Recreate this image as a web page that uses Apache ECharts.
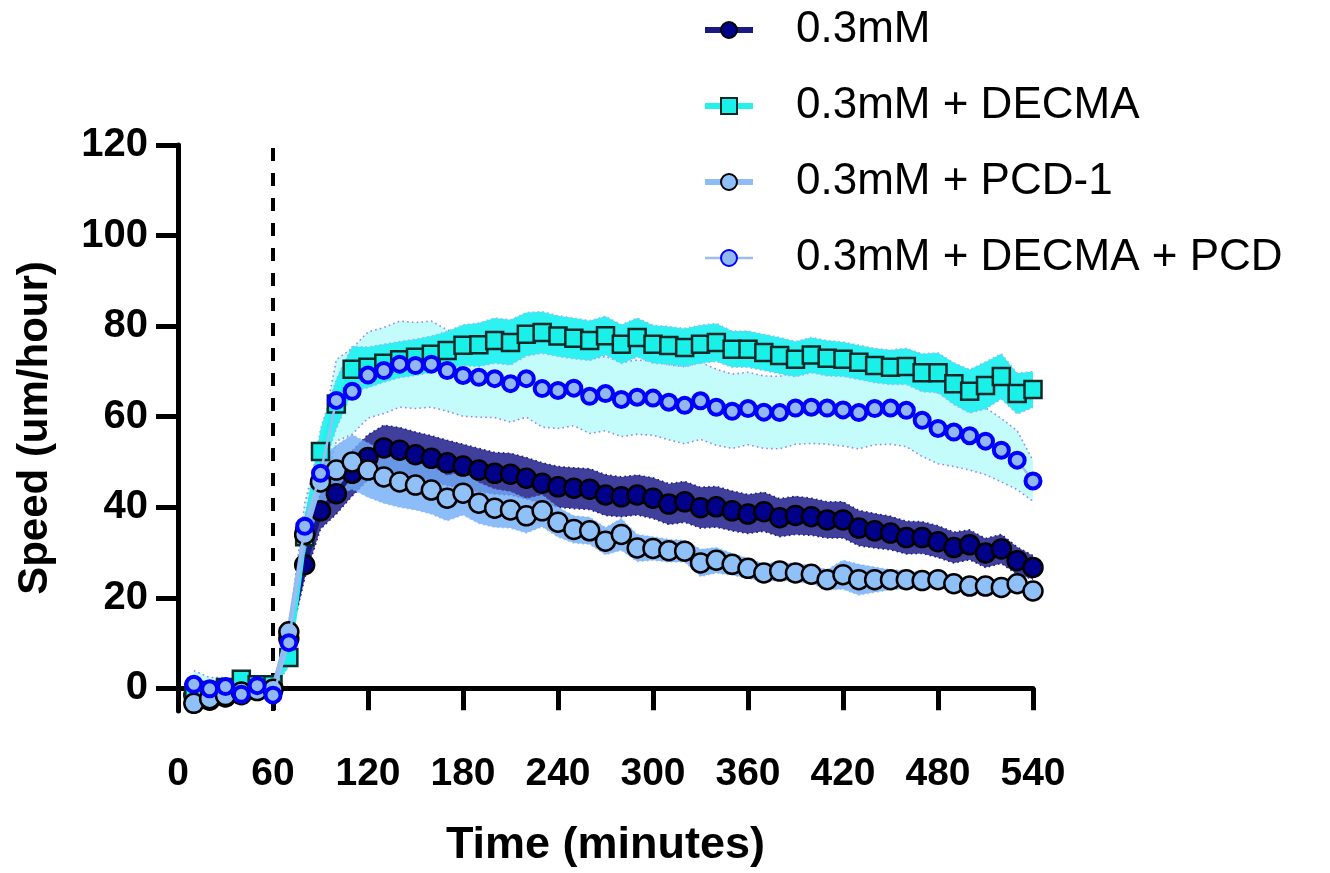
<!DOCTYPE html>
<html>
<head>
<meta charset="utf-8">
<title>Speed over time</title>
<script src="https://cdn.jsdelivr.net/npm/echarts@6/dist/echarts.min.js"></script>
<style>
  html, body { margin: 0; padding: 0; background: #fff; }
  #chart { width: 1330px; height: 873px; }
</style>
</head>
<body>
<div id="chart"></div>
<script>
// time points (minutes)
const times = [10, 20, 30, 40, 50, 60, 70, 80, 90, 100, 110, 120, 130, 140, 150, 160, 170, 180,
  190, 200, 210, 220, 230, 240, 250, 260, 270, 280, 290, 300, 310, 320, 330, 340, 350, 360,
  370, 380, 390, 400, 410, 420, 430, 440, 450, 460, 470, 480, 490, 500, 510, 520, 530, 540];

const yTicks = [0, 20, 40, 60, 80, 100, 120];
const seriesNames = ['0.3mM', '0.3mM + DECMA', '0.3mM + PCD-1', '0.3mM + DECMA + PCD'];

// 0.3mM
const mean03 = [-1.5, -2.6, -1.9, -1.4, -0.4, 0.0, 11.0, 27.3, 39.2, 43.0, 47.5, 51.0, 53.1, 52.6,
  51.6, 50.8, 49.8, 49.1, 48.2, 47.5, 47.3, 46.4, 45.3, 44.5, 44.2, 44.0, 42.7, 42.3, 42.7, 42.0,
  40.7, 41.2, 39.9, 40.1, 39.2, 38.5, 39.0, 37.7, 38.2, 37.9, 37.2, 37.2, 35.4, 34.8, 34.3, 33.3,
  33.3, 32.4, 31.1, 31.7, 29.9, 30.8, 28.2, 26.7];
const sem03 = [1.0, 1.2, 1.0, 1.0, 0.8, 0.8, 1.5, 3.0, 4.0, 4.5, 5.0, 5.0, 5.0, 5.0,
  5.0, 5.0, 5.0, 4.8, 4.8, 4.6, 4.6, 4.6, 4.5, 4.5, 4.5, 4.5, 4.5, 4.4, 4.4, 4.5,
  4.5, 4.5, 4.5, 4.5, 4.4, 4.3, 4.3, 4.2, 4.2, 4.1, 4.0, 4.0, 3.9, 3.8, 3.7, 3.6,
  3.5, 3.5, 3.4, 3.3, 3.2, 3.2, 3.0, 2.6];

// 0.3mM + DECMA
const meanDecma = [-0.9, -0.5, 0.2, 2.0, 0.8, 0.8, 6.8, 33.5, 52.3, 62.8, 70.5, 70.9, 71.8, 72.6,
  73.1, 73.8, 74.6, 75.8, 75.9, 76.8, 76.4, 78.2, 78.6, 77.8, 77.3, 76.8, 77.9, 76.0, 77.5, 76.0,
  75.7, 75.3, 76.0, 76.4, 74.9, 74.9, 74.2, 73.5, 72.7, 73.6, 72.9, 72.7, 72.0, 71.3, 70.9, 71.1,
  69.7, 69.7, 67.3, 65.6, 66.9, 68.9, 65.1, 66.0];
const semDecma = [1.2, 1.0, 1.0, 1.0, 1.0, 1.0, 2.0, 4.0, 5.0, 5.5, 5.0, 4.5, 4.2, 4.0,
  4.0, 4.0, 4.2, 4.5, 4.8, 5.0, 5.0, 4.8, 4.6, 4.5, 4.5, 4.4, 4.3, 4.3, 4.3, 4.2,
  4.2, 4.2, 4.2, 4.2, 4.0, 4.0, 4.0, 4.0, 3.9, 3.9, 3.9, 3.8, 3.8, 3.8, 3.8, 4.0,
  4.2, 4.4, 4.6, 4.8, 5.2, 5.0, 4.5, 4.0];

// 0.3mM + PCD-1
const meanPcd = [-3.3, -2.3, -1.6, -0.8, -0.5, -0.2, 12.5, 34.0, 45.6, 48.2, 50.0, 48.2, 46.7, 45.6,
  44.9, 43.8, 42.0, 43.1, 40.9, 39.8, 39.4, 38.1, 39.2, 36.7, 35.1, 34.8, 32.5, 34.0, 31.0, 30.9,
  30.4, 30.3, 27.7, 28.3, 27.4, 26.5, 25.5, 25.9, 25.5, 25.2, 24.0, 25.1, 24.0, 24.0, 24.0, 24.0,
  23.8, 24.0, 23.1, 22.6, 22.6, 22.3, 23.1, 21.5];
const semPcd = [1.2, 1.0, 1.0, 0.8, 0.8, 0.8, 2.0, 4.0, 5.0, 5.5, 6.0, 6.0, 5.8, 5.6,
  5.5, 5.3, 5.0, 4.8, 4.5, 4.2, 4.0, 3.8, 3.5, 3.3, 3.0, 3.0, 3.0, 3.5, 3.0, 2.6,
  2.5, 2.4, 3.0, 2.8, 2.4, 2.2, 2.0, 2.0, 2.0, 2.0, 2.2, 3.2, 3.4, 2.8, 2.2, 2.0,
  1.8, 1.6, 1.5, 1.4, 1.3, 1.2, 1.2, 1.0];

// 0.3mM + DECMA + PCD
const meanDP = [0.9, -0.1, 0.4, -1.3, 0.6, -1.5, 10.1, 35.8, 47.5, 63.6, 65.6, 69.2, 70.2, 71.6,
  71.3, 71.6, 70.2, 69.1, 68.7, 68.4, 67.3, 68.4, 66.2, 65.8, 66.3, 64.5, 65.1, 63.8, 64.3, 64.1,
  63.2, 62.5, 63.5, 62.1, 61.2, 61.8, 61.0, 60.9, 61.9, 62.1, 61.9, 61.5, 60.9, 61.8, 61.9, 61.4,
  59.2, 57.4, 56.6, 55.8, 54.6, 52.6, 50.4, 45.8];
const semDP = [3.0, 2.5, 2.0, 1.5, 1.2, 1.0, 3.0, 5.0, 7.0, 9.0, 9.5, 9.5, 9.5, 9.5,
  9.5, 9.5, 9.0, 9.0, 8.8, 8.6, 8.5, 8.5, 8.5, 8.4, 8.3, 8.2, 8.2, 8.2, 8.2, 8.2,
  8.3, 8.5, 8.5, 8.4, 8.2, 8.0, 8.0, 8.0, 8.0, 8.0, 8.0, 8.0, 8.0, 8.0, 8.0, 8.0,
  8.0, 7.8, 7.6, 7.6, 7.4, 7.0, 6.5, 4.5];

const FONT = "'Liberation Sans', Arial, Helvetica, sans-serif";

function pairs(vals) {
  return times.map((t, i) => [t, vals[i]]);
}

// mean +/- sem band drawn as one polygon through the axis scales
function band(mean, sem, fill, edge, z) {
  return {
    type: 'custom',
    silent: true,
    z: z,
    clip: true,
    data: [[times[0], mean[0]]],
    renderItem(params, api) {
      const up = times.map((t, i) => api.coord([t, mean[i] + sem[i]]));
      const lo = times.map((t, i) => api.coord([t, mean[i] - sem[i]]));
      const edgeStyle = { stroke: edge, lineWidth: 1.6, lineDash: [1.6, 3.2], fill: null };
      return {
        type: 'group',
        children: [
          { type: 'polygon', shape: { points: up.concat(lo.slice().reverse()) }, style: { fill: fill } },
          { type: 'polyline', shape: { points: up }, style: edgeStyle },
          { type: 'polyline', shape: { points: lo }, style: edgeStyle },
        ],
      };
    },
  };
}

const chart = echarts.init(document.getElementById('chart'), null, { renderer: 'canvas' });

const legendLine = (name, width) => ({ name: name, lineStyle: { width: width } });

const options = {
  animation: false,
  backgroundColor: '#fff',
  grid: { left: 178, right: 297, top: 145, bottom: 160, containLabel: false },
  legend: {
    orient: 'vertical',
    left: 697,
    top: 0,
    itemWidth: 48,
    itemHeight: 20,
    itemGap: 26,
    data: [
      legendLine(seriesNames[0], 6),
      legendLine(seriesNames[1], 6),
      legendLine(seriesNames[2], 6),
      legendLine(seriesNames[3], 2.5),
    ],
    textStyle: {
      fontFamily: FONT, fontSize: 44, color: '#000', lineHeight: 50,
      padding: [0, 0, 0, 38],
    },
  },
  xAxis: {
    type: 'value',
    min: 0,
    max: 540,
    interval: 60,
    name: 'Time (minutes)',
    nameLocation: 'middle',
    nameGap: 112,
    nameTextStyle: { fontFamily: FONT, fontSize: 45, fontWeight: 'bold', color: '#000' },
    axisLine: { lineStyle: { color: '#000', width: 5 } },
    axisTick: { length: 22, lineStyle: { color: '#000', width: 5 } },
    axisLabel: { fontFamily: FONT, fontSize: 39, fontWeight: 'bold', color: '#000', margin: 44 },
    splitLine: { show: false },
  },
  yAxis: {
    type: 'value',
    min: -5,
    max: 120,
    name: 'Speed (um/hour)',
    nameLocation: 'middle',
    nameGap: 122,
    nameTextStyle: { fontFamily: FONT, fontSize: 42, fontWeight: 'bold', color: '#000' },
    axisLine: { lineStyle: { color: '#000', width: 5 } },
    axisTick: { length: 22, customValues: yTicks, lineStyle: { color: '#000', width: 5 } },
    axisLabel: {
      customValues: yTicks,
      fontFamily: FONT, fontSize: 40, fontWeight: 'bold', color: '#000', margin: 30,
    },
    splitLine: { show: false },
  },
  series: [
    band(meanDP, semDP, '#c4fbfb', '#8c8cf0', 1),
    band(meanDecma, semDecma, '#2ef2f2', '#9ab4f8', 2),
    band(mean03, sem03, '#40409c', '#1c1c8c', 3),
    band(meanPcd, semPcd, 'rgba(112,172,248,0.8)', 'rgba(112,172,248,0.6)', 4),
    {
      name: seriesNames[0], type: 'line', data: pairs(mean03),
      symbol: 'circle', symbolSize: 19,
      itemStyle: { color: '#00008b', borderColor: '#000', borderWidth: 2.5 },
      lineStyle: { color: '#1a1a80', width: 5 },
      z: 10,
      markLine: {
        silent: true, symbol: 'none', label: { show: false },
        lineStyle: { color: '#000', width: 4, type: [13, 12] },
        data: [{ xAxis: 60 }],
      },
    },
    {
      name: seriesNames[1], type: 'line', data: pairs(meanDecma),
      symbol: 'rect', symbolSize: 17,
      itemStyle: { color: '#18f0e8', borderColor: '#0c2a2a', borderWidth: 2.5 },
      lineStyle: { color: '#22f2ea', width: 5 },
      z: 11,
    },
    {
      name: seriesNames[2], type: 'line', data: pairs(meanPcd),
      symbol: 'circle', symbolSize: 19,
      itemStyle: { color: '#90c0f8', borderColor: '#000', borderWidth: 2.5 },
      lineStyle: { color: '#8ebcf4', width: 5 },
      z: 12,
    },
    {
      name: seriesNames[3], type: 'line', data: pairs(meanDP),
      symbol: 'circle', symbolSize: 15,
      itemStyle: { color: '#92b8f2', borderColor: '#0000ff', borderWidth: 4 },
      lineStyle: { color: '#9cbcf2', width: 2.5 },
      z: 13,
    },
  ],
};

chart.setOption(options);
</script>
</body>
</html>
